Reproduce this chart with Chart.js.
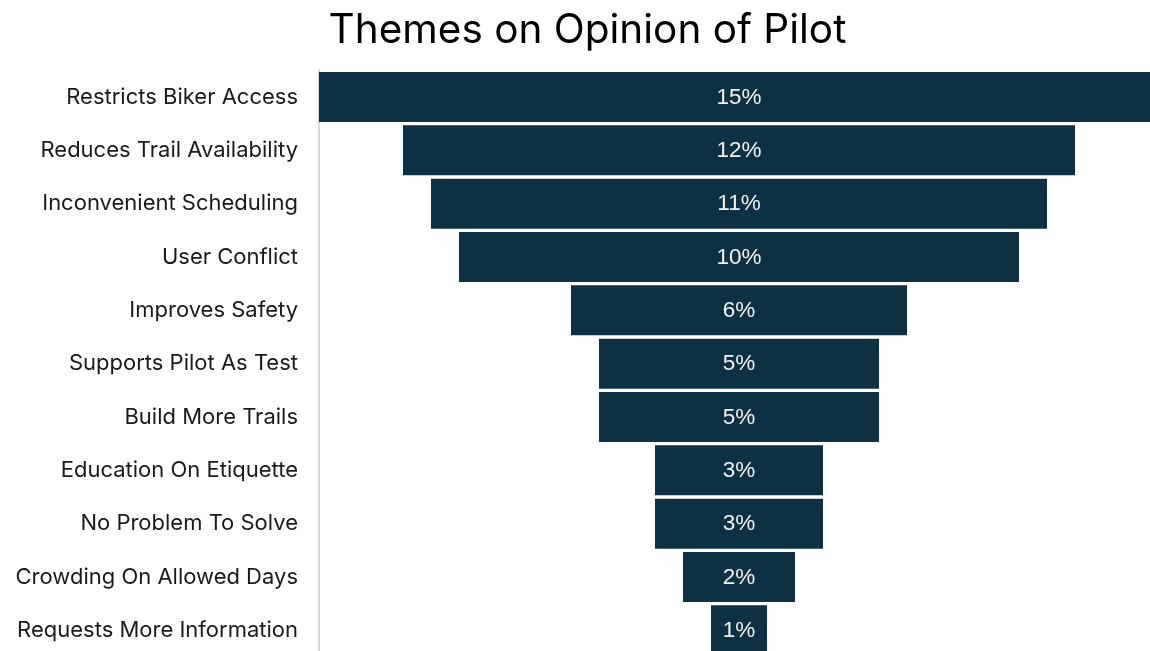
<!DOCTYPE html>
<html>
<head>
<meta charset="utf-8">
<script src="https://cdn.jsdelivr.net/npm/chart.js@4.4.1/dist/chart.umd.min.js"></script>
<style>
  html, body { margin: 0; padding: 0; overflow: hidden; background: #fff; }
  canvas { display: block; }
</style>
</head>
<body>
<canvas id="funnel" width="1159" height="657"></canvas>
<script>
const themes = [
  "Restricts Biker Access",
  "Reduces Trail Availability",
  "Inconvenient Scheduling",
  "User Conflict",
  "Improves Safety",
  "Supports Pilot As Test",
  "Build More Trails",
  "Education On Etiquette",
  "No Problem To Solve",
  "Crowding On Allowed Days",
  "Requests More Information",
];
const shares = [15, 12, 11, 10, 6, 5, 5, 3, 3, 2, 1];

const barColor = "#0D3043";

// centre each bar on zero so the stack reads as a funnel
const spans = shares.map((v) => [-v / 2, v / 2]);

// white percentage in the middle of each bar
const valueLabels = {
  id: "valueLabels",
  afterDatasetsDraw(chart) {
    const { ctx } = chart;
    const meta = chart.getDatasetMeta(0);
    ctx.save();
    ctx.font = '22.5px "Liberation Sans", Arial, sans-serif';
    ctx.fillStyle = "#f2f2f2";
    ctx.textAlign = "center";
    ctx.textBaseline = "middle";
    meta.data.forEach((bar, i) => {
      const cx = (bar.x + bar.base) / 2;
      ctx.fillText(shares[i] + "%", cx, bar.y + 0.5);
    });
    ctx.restore();
  },
};

const ctx = document.getElementById("funnel").getContext("2d");
new Chart(ctx, {
  type: "bar",
  data: {
    labels: themes,
    datasets: [
      {
        data: spans,
        backgroundColor: barColor,
        borderWidth: 0,
        barPercentage: 0.938,
        categoryPercentage: 1,
      },
    ],
  },
  options: {
    indexAxis: "y",
    responsive: false,
    animation: false,
    layout: { padding: { left: 16, right: 0, top: 0, bottom: 0 } },
    plugins: {
      legend: { display: false },
      tooltip: { enabled: false },
      title: {
        display: true,
        text: "Themes on Opinion of Pilot",
        color: "#000",
        font: { family: "Inter, 'Open Sans', sans-serif", size: 40.5, weight: "normal" },
        padding: { top: 7, bottom: 14.75 },
      },
    },
    scales: {
      x: { type: "linear", min: -7.5, max: 7.5, display: false },
      y: {
        grid: { display: false, drawTicks: false },
        border: { display: true, color: "#d9d9d9", width: 2 },
        ticks: {
          color: "#1a1a1a",
          padding: 21,
          font: { family: "Inter, 'Open Sans', sans-serif", size: 22 },
        },
        afterFit(scale) {
          // fixed label column; the funnel runs to the bottom edge
          scale.width = 303;
          scale.paddingTop = 0;
          scale.paddingBottom = 0;
        },
      },
    },
  },
  plugins: [valueLabels],
});
</script>
</body>
</html>
